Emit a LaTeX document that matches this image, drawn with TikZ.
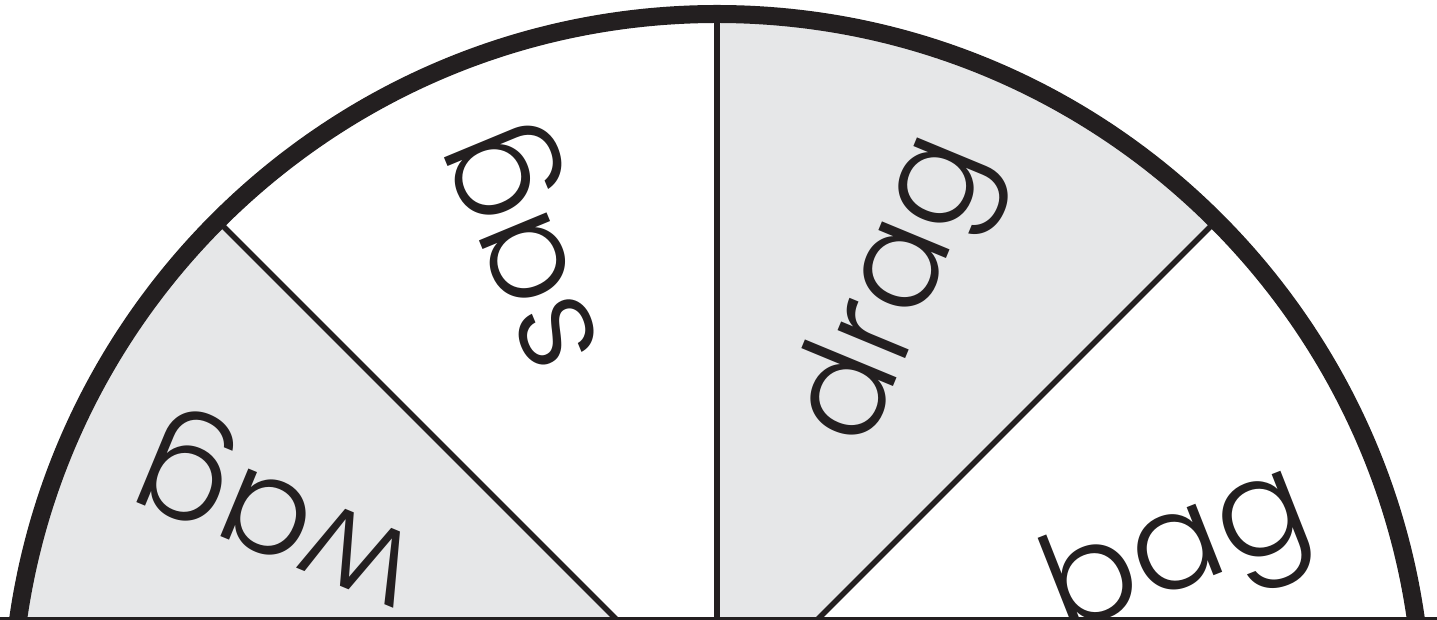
\documentclass[tikz,border=0pt]{standalone}
\usepackage{fontspec}
\newfontfamily\spin{Poppins Light}
\definecolor{ink}{HTML}{231F20}
\definecolor{panelgray}{HTML}{E6E7E8}
\begin{document}
\begin{tikzpicture}[x=1pt,y=1pt,
  word/.style={font=\spin\fontsize{134}{134}\selectfont, text=ink, inner sep=0pt, anchor=base},
  divider/.style={draw=ink, line width=5.5pt},
  rim/.style={draw=ink, line width=18pt}]
\useasboundingbox (0,0) rectangle (1437,620);
\fill[white] (0,0) rectangle (1437,620);
\begin{scope}
\clip (0,0) rectangle (1437,620);
\coordinate (c) at (717,-100);
\fill[panelgray] (c) -- ++(45:706) arc[start angle=45,end angle=90,radius=706] -- cycle;
\fill[panelgray] (c) -- ++(135:706) arc[start angle=135,end angle=180,radius=706] -- cycle;
\foreach \a in {45,90,135} \draw[divider] (c) -- ++(\a:706);
\draw[rim] (c) circle[radius=706];
\node[word, rotate=112.5] (sag) at (556,385) {sag};
\node[word, rotate=67.5] (drag) at (928,316) {drag};
\node[word, rotate=21.5] (bag) at (1191,35) {bag};
\node[word, rotate=157.5] (wag) at (289,134) {wag};
\end{scope}
\draw[ink, line width=2.7pt] (0,1.35) -- (1437,1.35);
\end{tikzpicture}
\end{document}
